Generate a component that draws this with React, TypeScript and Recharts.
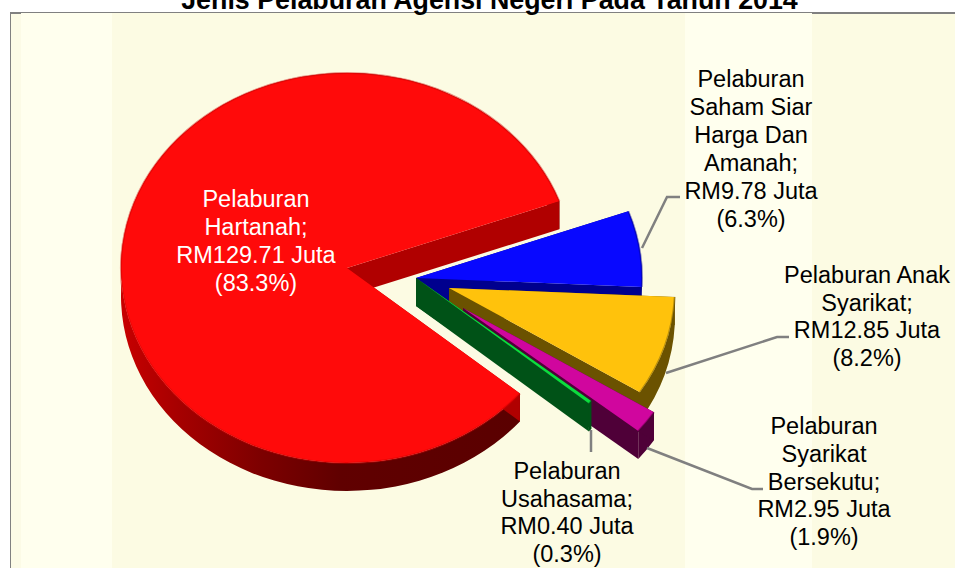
import React from "react";
import { PieChart, Pie } from "recharts";

const title = "Jenis Pelaburan Agensi Negeri Pada Tahun 2014";
const categories = [
  "Pelaburan Saham Siar Harga Dan Amanah",
  "Pelaburan Anak Syarikat",
  "Pelaburan Syarikat Bersekutu",
  "Pelaburan Usahasama",
  "Pelaburan Hartanah",
];
const values = [9.78, 12.85, 2.95, 0.4, 129.71];
const labelTexts = [
  ["Pelaburan", "Saham Siar", "Harga Dan", "Amanah;", "RM9.78 Juta", "(6.3%)"],
  ["Pelaburan Anak", "Syarikat;", "RM12.85 Juta", "(8.2%)"],
  ["Pelaburan", "Syarikat", "Bersekutu;", "RM2.95 Juta", "(1.9%)"],
  ["Pelaburan", "Usahasama;", "RM0.40 Juta", "(0.3%)"],
  ["Pelaburan", "Hartanah;", "RM129.71 Juta", "(83.3%)"],
];

// styles and layout
const topColors = ["#0808FF", "#FFC20C", "#D0069E", "#0CDC3E", "#FF0A0A"];
const cutWallColors = ["#00008E", "#6B5200", "#4F0038", "#005217", "#B00000"];
const arcWallColors = ["#00008E", "#6B5200", "#4F0038", "#005217", "url(#redWall)"];
const rimColors = ["#00008E", "#6B5200", "#4F0038", "#005217", "#D00000"];
const explodeX = [69, 102, 116, 69, 0];
const explodeY = [10, 20, 40, 10, 0];
const labelCenterX = [751, 867, 824, 567, 256];
const labelBaselineY = [87, 283, 434, 479, 207];
const labelLineGap = [27.9, 27.5, 27.8, 27.5, 28];
const leaderLines = [
  "642,248 667,197 680,197",
  "666,373 777,337 789,337",
  "647,448 752,489 763,489",
  "591,430 591,452",
  "",
];
const bands = [
  { x: 11, w: 10, fill: "#FCFBE6" },
  { x: 21, w: 91, fill: "#FFFFEE" },
  { x: 112, w: 573, fill: "#FCFBE3" },
  { x: 685, w: 127, fill: "#FFFFEE" },
  { x: 812, w: 143, fill: "#FCFBE3" },
];
const FONT = '"Liberation Sans", Arial, sans-serif';
const PIE_CX = 347;
const PIE_CY = 268;
const RADIUS_X = 226;
const RADIUS_Y = 195;
const DEPTH = 28;

const tableData = categories.map((name, i) => ({ name, value: values[i] }));

const Slice3D = (props: any) => {
  const { cx, cy, startAngle, endAngle, outerRadius, index } = props;
  const ratio = RADIUS_Y / RADIUS_X;
  const rx = outerRadius;
  const ry = outerRadius * ratio;
  const ax = cx + explodeX[index];
  const ay = cy + explodeY[index];
  const hi = Math.max(startAngle, endAngle);
  const lo = Math.min(startAngle, endAngle);
  const pt = (deg: number) => {
    const r = (deg * Math.PI) / 180;
    return [ax + rx * Math.cos(r), ay - ry * Math.sin(r)];
  };
  const [x1, y1] = pt(hi);
  const [x2, y2] = pt(lo);
  const large = hi - lo > 180 ? 1 : 0;
  const arc = `M${x1},${y1} A${rx},${ry} 0 ${large} 1 ${x2},${y2}`;
  const top = `M${ax},${ay} L${x1},${y1} A${rx},${ry} 0 ${large} 1 ${x2},${y2} Z`;
  const arcBand = `${arc} L${x2},${y2 + DEPTH} A${rx},${ry} 0 ${large} 0 ${x1},${y1 + DEPTH} Z`;
  const cutA = `M${ax},${ay} L${x1},${y1} L${x1},${y1 + DEPTH} L${ax},${ay + DEPTH} Z`;
  const cutB = `M${ax},${ay} L${x2},${y2} L${x2},${y2 + DEPTH} L${ax},${ay + DEPTH} Z`;
  return (
    <g>
      <path d={arcBand} fill={arcWallColors[index]} />
      <path d={cutA} fill={cutWallColors[index]} />
      <path d={cutB} fill={cutWallColors[index]} />
      <path d={top} fill={topColors[index]} />
      <path d={arc} fill="none" stroke={rimColors[index]} strokeOpacity={0.45} strokeWidth={2} />
    </g>
  );
};

const SliceLabel = (props: any) => {
  const { index } = props;
  const lines = labelTexts[index];
  return (
    <g>
      {leaderLines[index] && (
        <polyline points={leaderLines[index]} fill="none" stroke="#808080" strokeWidth={2.5} />
      )}
      <text
        textAnchor="middle"
        fontFamily={FONT}
        fontSize={23.5}
        fill={index === 4 ? "#FFFFFF" : "#000000"}
      >
        {lines.map((line, i) => (
          <tspan key={i} x={labelCenterX[index]} y={labelBaselineY[index] + i * labelLineGap[index]}>
            {line}
          </tspan>
        ))}
      </text>
    </g>
  );
};

export default function App() {
  return (
    <div style={{ position: "absolute", left: 0, top: 0, width: 955, height: 568, background: "#FFFFFF" }}>
      <PieChart width={955} height={568} margin={{ top: 0, right: 0, bottom: 0, left: 0 }}>
        <defs>
          <linearGradient id="redWall" gradientUnits="userSpaceOnUse" x1={120} y1={0} x2={520} y2={0}>
            <stop offset="0" stopColor="#C80000" />
            <stop offset="0.15" stopColor="#A50000" />
            <stop offset="0.35" stopColor="#7D0000" />
            <stop offset="0.55" stopColor="#600000" />
            <stop offset="1" stopColor="#5A0000" />
          </linearGradient>
        </defs>
        <rect x={10} y={12} width={945} height={556} fill="#808080" />
        {bands.map((b) => (
          <rect key={b.x} x={b.x} y={b.x >= 21 && b.x < 812 ? 13 : 14} width={b.w} height={555} fill={b.fill} />
        ))}
        <text
          x={489.5}
          y={9}
          textAnchor="middle"
          fontFamily={FONT}
          fontWeight="bold"
          fontSize={26.8}
          fill="#000000"
        >
          {title}
        </text>
        <Pie
          data={tableData}
          dataKey="value"
          nameKey="name"
          cx={PIE_CX}
          cy={PIE_CY}
          innerRadius={0}
          outerRadius={RADIUS_X}
          startAngle={20}
          endAngle={-340}
          paddingAngle={0}
          stroke="none"
          shape={Slice3D}
          label={SliceLabel}
          labelLine={false}
          isAnimationActive={false}
        />
      </PieChart>
    </div>
  );
}
